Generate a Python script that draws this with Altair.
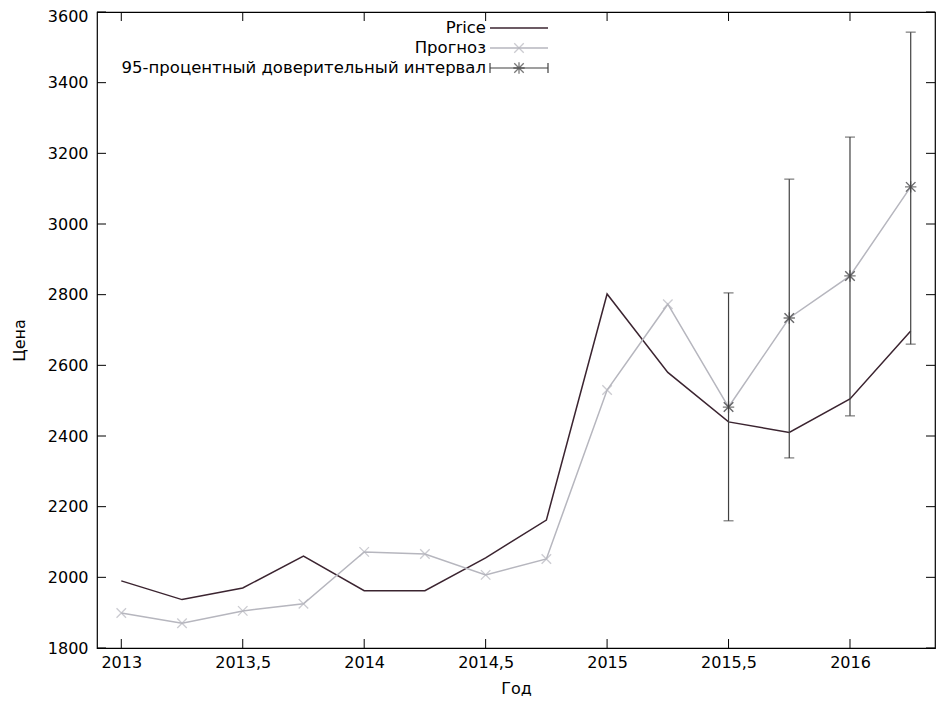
import altair as alt
import pandas as pd

# ---- data ----
years = [2013, 2013.25, 2013.5, 2013.75, 2014, 2014.25, 2014.5, 2014.75,
         2015, 2015.25, 2015.5, 2015.75, 2016, 2016.25]
price = [1990, 1937, 1970, 2060, 1962, 1962, 2055, 2162,
         2802, 2580, 2440, 2410, 2505, 2697]
forecast = [1899, 1870, 1905, 1925, 2072, 2066, 2007, 2052,
            2530, 2773, 2482, 2734, 2853, 3105]
ci_years = [2015.5, 2015.75, 2016, 2016.25]
ci_mid = [2482, 2734, 2853, 3105]
ci_low = [2160, 2338, 2457, 2660]
ci_high = [2805, 3127, 3246, 3543]
x_ticks = [2013, 2013.5, 2014, 2014.5, 2015, 2015.5, 2016]
y_ticks = [1800, 2000, 2200, 2400, 2600, 2800, 3000, 3200, 3400, 3600]
legend_labels = ["Price", "Прогноз", "95-процентный доверительный интервал"]

W, H = 838, 636
FONT = "DejaVu Sans"
FS = 16
LFS = 16.5
C_PRICE = "#3b2430"
C_FC = "#b6b6be"
C_CI = "#404040"
CROSS = "M-1,-1L1,1M-1,1L1,-1"
STAR = "M-1,-1L1,1M-1,1L1,-1M-1.2,0L1.2,0M0,-1.2L0,1.2"

df = pd.DataFrame({"year": years, "price": price, "forecast": forecast})
ci = pd.DataFrame({"year": ci_years, "mid": ci_mid, "low": ci_low, "high": ci_high})
xt = pd.DataFrame({"t": x_ticks})
yt = pd.DataFrame({"t": y_ticks})
one = pd.DataFrame({"a": [0]})

xs = alt.Scale(domain=[2012.9, 2016.35], nice=False, zero=False)
ys = alt.Scale(domain=[1800, 3600], nice=False, zero=False)

xaxis = alt.Axis(values=x_ticks, ticks=False, domain=False, grid=False,
                 labelExpr="replace(toString(datum.value), '.', ',')",
                 labelPadding=6, labelFontSize=FS, labelFont=FONT,
                 labelColor="#000", title="Год", titleFont=FONT, titleFontSize=FS,
                 titleFontWeight="normal", titleY=40, titleBaseline="middle",
                 titleColor="#000")
yaxis = alt.Axis(values=y_ticks, ticks=False, domain=False, grid=False, format="d",
                 labelPadding=9, labelFontSize=FS, labelFont=FONT, labelColor="#000",
                 labelOffset={"condition": {"test": "datum.value >= 3600", "value": 4},
                              "value": 0},
                 title="Цена", titleFont=FONT, titleFontSize=FS, titleFontWeight="normal",
                 titleX=-78, titleY=328, titleAngle=270, titleAlign="center",
                 titleBaseline="middle", titleColor="#000")

X = alt.X("year:Q", scale=xs, axis=xaxis)

price_line = alt.Chart(df).mark_line(color=C_PRICE, strokeWidth=1.5).encode(
    x=X, y=alt.Y("price:Q", scale=ys, axis=yaxis))

fc_line = alt.Chart(df).mark_line(color=C_FC, strokeWidth=1.5).encode(
    x=alt.X("year:Q", scale=xs), y=alt.Y("forecast:Q", scale=ys))
fc_pts = alt.Chart(df).mark_point(shape=CROSS, color=C_FC, size=90, strokeWidth=1.3,
                                  filled=False).encode(
    x=alt.X("year:Q", scale=xs), y=alt.Y("forecast:Q", scale=ys))

ci_rule = alt.Chart(ci).mark_rule(color=C_CI, strokeWidth=1.2).encode(
    x=alt.X("year:Q", scale=xs), y=alt.Y("low:Q", scale=ys), y2="high:Q")
cap_lo = alt.Chart(ci).mark_tick(color=C_CI, orient="horizontal", size=10, thickness=1.2).encode(
    x=alt.X("year:Q", scale=xs), y=alt.Y("low:Q", scale=ys))
cap_hi = alt.Chart(ci).mark_tick(color=C_CI, orient="horizontal", size=10, thickness=1.2).encode(
    x=alt.X("year:Q", scale=xs), y=alt.Y("high:Q", scale=ys))
stars = alt.Chart(ci).mark_point(shape=STAR, color=C_CI, size=90, strokeWidth=1.3,
                                 filled=False).encode(
    x=alt.X("year:Q", scale=xs), y=alt.Y("mid:Q", scale=ys))

TL = 9
tick_style = dict(color="#000", strokeWidth=1)
xt_bot = alt.Chart(xt).mark_rule(**tick_style).encode(
    x=alt.X("t:Q", scale=xs), y=alt.value(H), y2=alt.value(H - TL))
xt_top = alt.Chart(xt).mark_rule(**tick_style).encode(
    x=alt.X("t:Q", scale=xs), y=alt.value(0), y2=alt.value(TL))
yt_left = alt.Chart(yt).mark_rule(**tick_style).encode(
    y=alt.Y("t:Q", scale=ys), x=alt.value(0), x2=alt.value(TL))
yt_right = alt.Chart(yt).mark_rule(**tick_style).encode(
    y=alt.Y("t:Q", scale=ys), x=alt.value(W), x2=alt.value(W - TL))

# ---- legend ----
LX0, LX1, LXM, LT = 393, 451, 422, 389
rows = [16, 36, 56]
leg = []
for lab, ry in zip(legend_labels, rows):
    leg.append(alt.Chart(one).mark_text(align="right", baseline="middle", font=FONT,
                                        fontSize=LFS, color="#000").encode(
        x=alt.value(LT), y=alt.value(ry), text=alt.value(lab)))
leg.append(alt.Chart(one).mark_rule(color=C_PRICE, strokeWidth=1.5).encode(
    x=alt.value(LX0), x2=alt.value(LX1), y=alt.value(rows[0])))
leg.append(alt.Chart(one).mark_rule(color=C_FC, strokeWidth=1.5).encode(
    x=alt.value(LX0), x2=alt.value(LX1), y=alt.value(rows[1])))
leg.append(alt.Chart(one).mark_point(shape=CROSS, color=C_FC, size=90, strokeWidth=1.3).encode(
    x=alt.value(LXM), y=alt.value(rows[1])))
leg.append(alt.Chart(one).mark_rule(color=C_CI, strokeWidth=1.2).encode(
    x=alt.value(LX0), x2=alt.value(LX1), y=alt.value(rows[2])))
for cx in (LX0, LX1):
    leg.append(alt.Chart(one).mark_rule(color=C_CI, strokeWidth=1.2).encode(
        x=alt.value(cx), y=alt.value(rows[2] - 5), y2=alt.value(rows[2] + 5)))
leg.append(alt.Chart(one).mark_point(shape=STAR, color=C_CI, size=90, strokeWidth=1.3).encode(
    x=alt.value(LXM), y=alt.value(rows[2])))

chart = alt.layer(
    price_line, fc_line, fc_pts, ci_rule, cap_lo, cap_hi, stars,
    xt_bot, xt_top, yt_left, yt_right, *leg
).properties(
    width=W, height=H,
    padding={"left": 89, "top": 4, "right": 2, "bottom": 48},
    autosize=alt.AutoSizeParams(type="none"),
    background="white",
).configure_view(stroke="#000", strokeWidth=1.2)

chart.save("out.html", embed_options={"renderer": "svg", "actions": False})
